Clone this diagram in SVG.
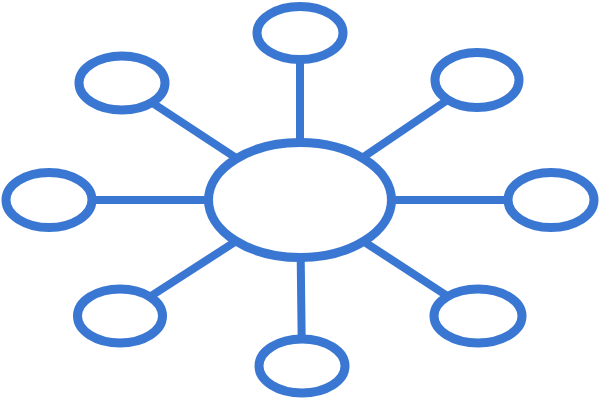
<svg xmlns="http://www.w3.org/2000/svg" width="600" height="400" viewBox="0 0 600 400">
<style>
.n{fill:#fff;stroke:#3a77d2;stroke-width:9}
.c line{stroke:#3a77d2;stroke-width:8}
</style>
<rect width="600" height="400" fill="#fff"/>
<g class="c" id="connectors">
<line x1="300" y1="200" x2="300" y2="33"/>
<line x1="300" y1="200" x2="122" y2="83"/>
<line x1="300" y1="200" x2="477" y2="80"/>
<line x1="300" y1="200" x2="49" y2="200"/>
<line x1="300" y1="200" x2="551" y2="200"/>
<line x1="300" y1="200" x2="120" y2="316"/>
<line x1="300" y1="200" x2="478" y2="316"/>
<line x1="300" y1="200" x2="302" y2="366"/>
</g>
<g id="center"><ellipse class="n" cx="300" cy="200" rx="91.5" ry="57.5" stroke-width="10"/></g>
<g id="top"><ellipse class="n" cx="300" cy="33" rx="43" ry="26.5"/></g>
<g id="top-left"><ellipse class="n" cx="122" cy="83" rx="43" ry="27"/></g>
<g id="top-right"><ellipse class="n" cx="477" cy="80" rx="42" ry="27.5"/></g>
<g id="left"><ellipse class="n" cx="49" cy="200" rx="43" ry="27.5"/></g>
<g id="right"><ellipse class="n" cx="551" cy="200" rx="43" ry="27.5"/></g>
<g id="bottom-left"><ellipse class="n" cx="120" cy="316" rx="42.5" ry="27"/></g>
<g id="bottom-right"><ellipse class="n" cx="478" cy="316" rx="44" ry="27"/></g>
<g id="bottom"><ellipse class="n" cx="302" cy="366" rx="43" ry="27"/></g>
</svg>
